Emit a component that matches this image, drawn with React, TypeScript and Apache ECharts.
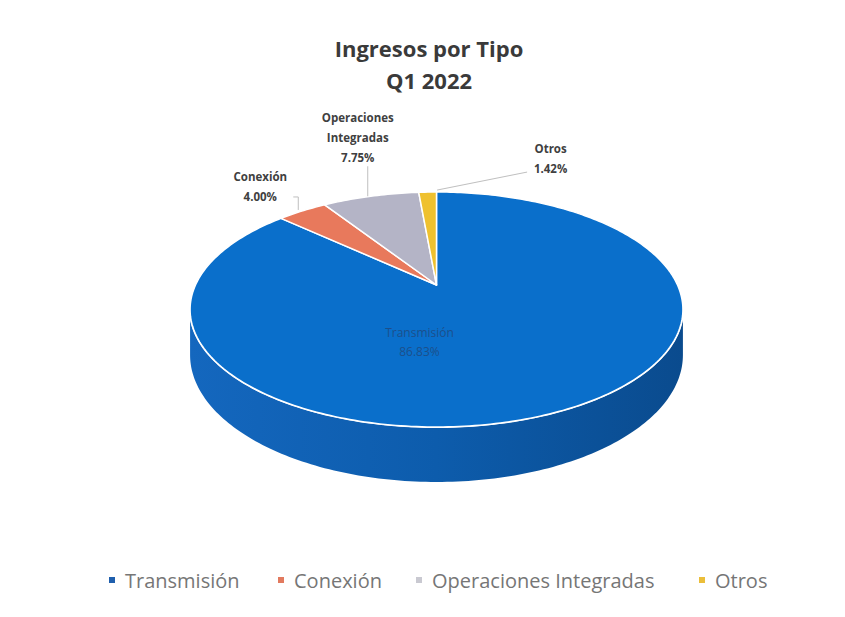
import React, { useEffect, useRef } from "react";
import * as echarts from "echarts";

// ---- data ----
const categories = ["Transmisión", "Conexión", "Operaciones Integradas", "Otros"];
const shares = [86.83, 4.0, 7.75, 1.42];
const labelNames = ["Transmisión", "Conexión", "Operaciones\nIntegradas", "Otros"];
const titleLines = ["Ingresos por Tipo", "Q1 2022"];

// ---- styles ----
const topColors = ["#0A6FCB", "#E8795C", "#B4B4C6", "#EFC12F"];
const legendColors = ["#1F5FAD", "#E27A5F", "#C9C9D1", "#EBBE3A"];
const legendLefts = [104, 273, 411, 694];

// ---- 3D pie geometry (layout) ----
const CX = 436.5;
const CY = 285;
const RX = 241;
const RY = 112.4;
const E = 0.2085;
const DEPTH = 43.5;
const SIL = (Math.acos(-E) * 180) / Math.PI; // silhouette angle

// label layout relative to anchor (anchorR = 1 rim at mid angle, 0 centre)
const labelLayout = [
  { anchorR: 0, dx: -17, dy: 57, leader: [] as number[][] },
  { anchorR: 1, dx: -42, dy: -24, leader: [[-4, -1], [-4, -14], [-9, -14]] },
  { anchorR: 1, dx: -13, dy: -59, leader: [[-3, 0], [-3, -30]] },
  { anchorR: 1, dx: 123, dy: -34, leader: [[9.5, -2], [99.5, -20]] },
];

function proj(phiDeg: number, r: number, drop: number): number[] {
  const p = (phiDeg * Math.PI) / 180;
  const u = r * Math.sin(p);
  const v = -r * Math.cos(p);
  const s = 1 / (1 - E * v);
  return [CX + RX * u * s, CY + RY * v * s + drop * s];
}

function rim(a: number, b: number, r: number, drop: number): number[][] {
  const pts: number[][] = [];
  const n = Math.max(2, Math.ceil(Math.abs(b - a)));
  for (let k = 0; k <= n; k++) pts.push(proj(a + ((b - a) * k) / n, r, drop));
  return pts;
}

export default function App() {
  const ref = useRef<HTMLDivElement>(null);
  useEffect(() => {
    document.body.style.margin = "0";
    if (!ref.current) return;
    const chart = echarts.init(ref.current, null, { renderer: "svg" });
    const total = shares.reduce((a, b) => a + b, 0);
    const starts: number[] = [];
    let acc = 0;
    shares.forEach((v) => {
      starts.push((acc / total) * 360);
      acc += v;
    });

    const series = categories.map((name, i) => ({
      type: "custom",
      name,
      coordinateSystem: "none",
      itemStyle: { color: legendColors[i] },
      data: [{ value: shares[i], name }],
      renderItem: () => {
        const a = starts[i];
        const b = a + (shares[i] / total) * 360;
        const children: any[] = [];
        // front wall
        const lo = Math.max(a, SIL);
        const hi = Math.min(b, 360 - SIL);
        if (hi > lo) {
          const top = rim(lo, hi, 1, 0);
          const bottom = rim(hi, lo, 1, DEPTH);
          children.push({
            type: "polygon",
            shape: { points: top.concat(bottom) },
            style: {
              fill: new echarts.graphic.LinearGradient(0, 0, 1, 0, [
                { offset: 0, color: "#1467BE" },
                { offset: 0.5, color: "#0D5CAC" },
                { offset: 1, color: "#0A4B8E" },
              ]),
            },
            z2: 1,
          });
          children.push({
            type: "polyline",
            shape: { points: top },
            style: { stroke: "#FFFFFF", lineWidth: 2, fill: null },
            z2: 2,
          });
        }
        // top face
        children.push({
          type: "polygon",
          shape: { points: [proj(0, 0, 0)].concat(rim(a, b, 1, 0)) },
          style: { fill: topColors[i], stroke: "#FFFFFF", lineWidth: 1.5, lineJoin: "round" },
          z2: 3,
        });
        // label
        const lay = labelLayout[i];
        const mid = (a + b) / 2;
        const anc = proj(mid, lay.anchorR, 0);
        if (lay.leader.length) {
          children.push({
            type: "polyline",
            shape: { points: lay.leader.map((p) => [anc[0] + p[0], anc[1] + p[1]]) },
            style: { stroke: "#BFBFBF", lineWidth: 1, fill: null },
            z2: 4,
          });
        }
        const inside = lay.anchorR === 0;
        children.push({
          type: "text",
          x: anc[0] + lay.dx,
          y: anc[1] + lay.dy,
          style: {
            text: labelNames[i] + "\n" + shares[i].toFixed(2) + "%",
            align: "center",
            verticalAlign: "middle",
            fontFamily: "Open Sans",
            fontSize: inside ? 12 : 11.5,
            fontWeight: inside ? "normal" : "bold",
            lineHeight: inside ? 19 : 20,
            fill: inside ? "#1C4F8B" : "#404040",
          },
          z2: 5,
        });
        return { type: "group", children };
      },
    }));

    chart.setOption({
      animation: false,
      backgroundColor: "#FFFFFF",
      graphic: [
        {
          type: "text",
          x: 429,
          y: 32,
          style: {
            text: titleLines.join("\n"),
            align: "center",
            verticalAlign: "top",
            fontFamily: "Open Sans",
            fontSize: 22,
            fontWeight: "bold",
            lineHeight: 32,
            fill: "#3A3A3A",
          },
        },
      ],
      legend: categories.map((name, i) => ({
        data: [{ name, itemStyle: { color: legendColors[i] } }],
        left: legendLefts[i],
        top: 565,
        icon: "rect",
        itemWidth: 6,
        itemHeight: 6,
        selectedMode: false,
        textStyle: {
          fontFamily: "Open Sans",
          fontSize: 20,
          color: "#767676",
          padding: [0, 0, 0, 5],
        },
      })),
      series,
    });
    return () => chart.dispose();
  }, []);
  return <div ref={ref} style={{ width: 845, height: 617 }} />;
}
